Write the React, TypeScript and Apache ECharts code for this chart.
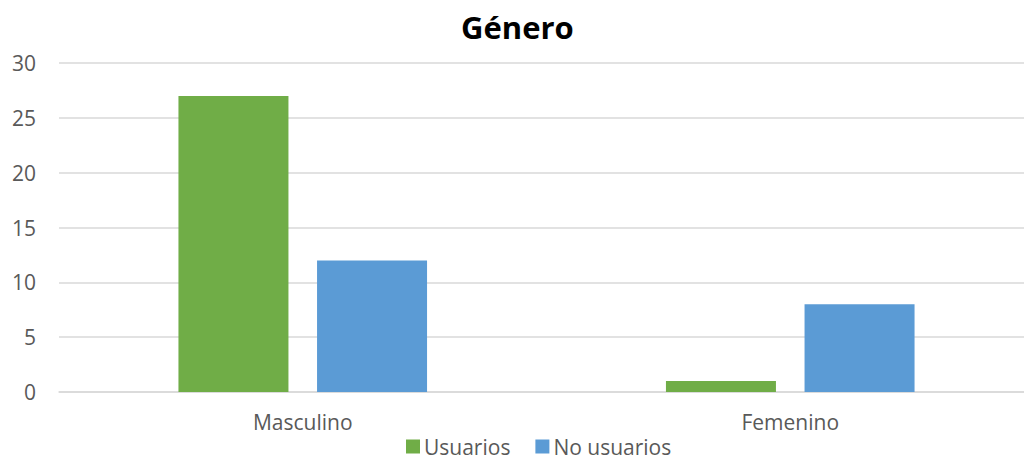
import React, { useEffect, useRef } from "react";
import * as echarts from "echarts";

const categories = ["Masculino", "Femenino"];
const usuarios = [27, 1];
const noUsuarios = [12, 8];
const seriesNames = ["Usuarios", "No usuarios"];
const titleText = "Género";

export default function App() {
  const ref = useRef<HTMLDivElement>(null);
  useEffect(() => {
    const chart = echarts.init(ref.current!, null, { renderer: "svg" });
    const font = "'Open Sans', 'Noto Sans', sans-serif";
    chart.setOption({
      animation: false,
      backgroundColor: "#ffffff",
      title: {
        text: titleText,
        left: 456,
        top: 6,
        textStyle: { fontFamily: font, fontSize: 31, fontWeight: "bold", color: "#000000" },
      },
      legend: {
        data: seriesNames,
        bottom: 0,
        left: 401,
        itemWidth: 14,
        itemHeight: 14,
        itemGap: 25,
        icon: "rect",
        textStyle: { fontFamily: font, fontSize: 21, color: "#595959", padding: [0, 0, 0, -1] },
      },
      grid: { left: 59, width: 975, top: 63, bottom: 70, containLabel: false, outerBoundsMode: "none" },
      xAxis: {
        type: "category",
        data: categories,
        axisLine: { lineStyle: { color: "#d9d9d9", width: 1.5 } },
        axisTick: { show: false },
        axisLabel: { fontFamily: font, fontSize: 21, color: "#595959", margin: 19 },
      },
      yAxis: {
        type: "value",
        min: 0,
        max: 30,
        interval: 5,
        axisLine: { show: false },
        axisTick: { show: false },
        splitLine: { lineStyle: { color: "#d9d9d9", width: 1.5 } },
        axisLabel: { fontFamily: font, fontSize: 21, color: "#595959", margin: 23 },
      },
      series: [
        {
          name: seriesNames[0],
          type: "bar",
          data: usuarios,
          itemStyle: { color: "#70ad47" },
          barWidth: 110,
          barGap: "26%",
        },
        {
          name: seriesNames[1],
          type: "bar",
          data: noUsuarios,
          itemStyle: { color: "#5b9bd5" },
          barWidth: 110,
          barGap: "26%",
        },
      ],
    });
    return () => chart.dispose();
  }, []);
  return (
    <div
      ref={ref}
      style={{ position: "fixed", left: 0, top: 0, width: 1024, height: 462 }}
    />
  );
}
